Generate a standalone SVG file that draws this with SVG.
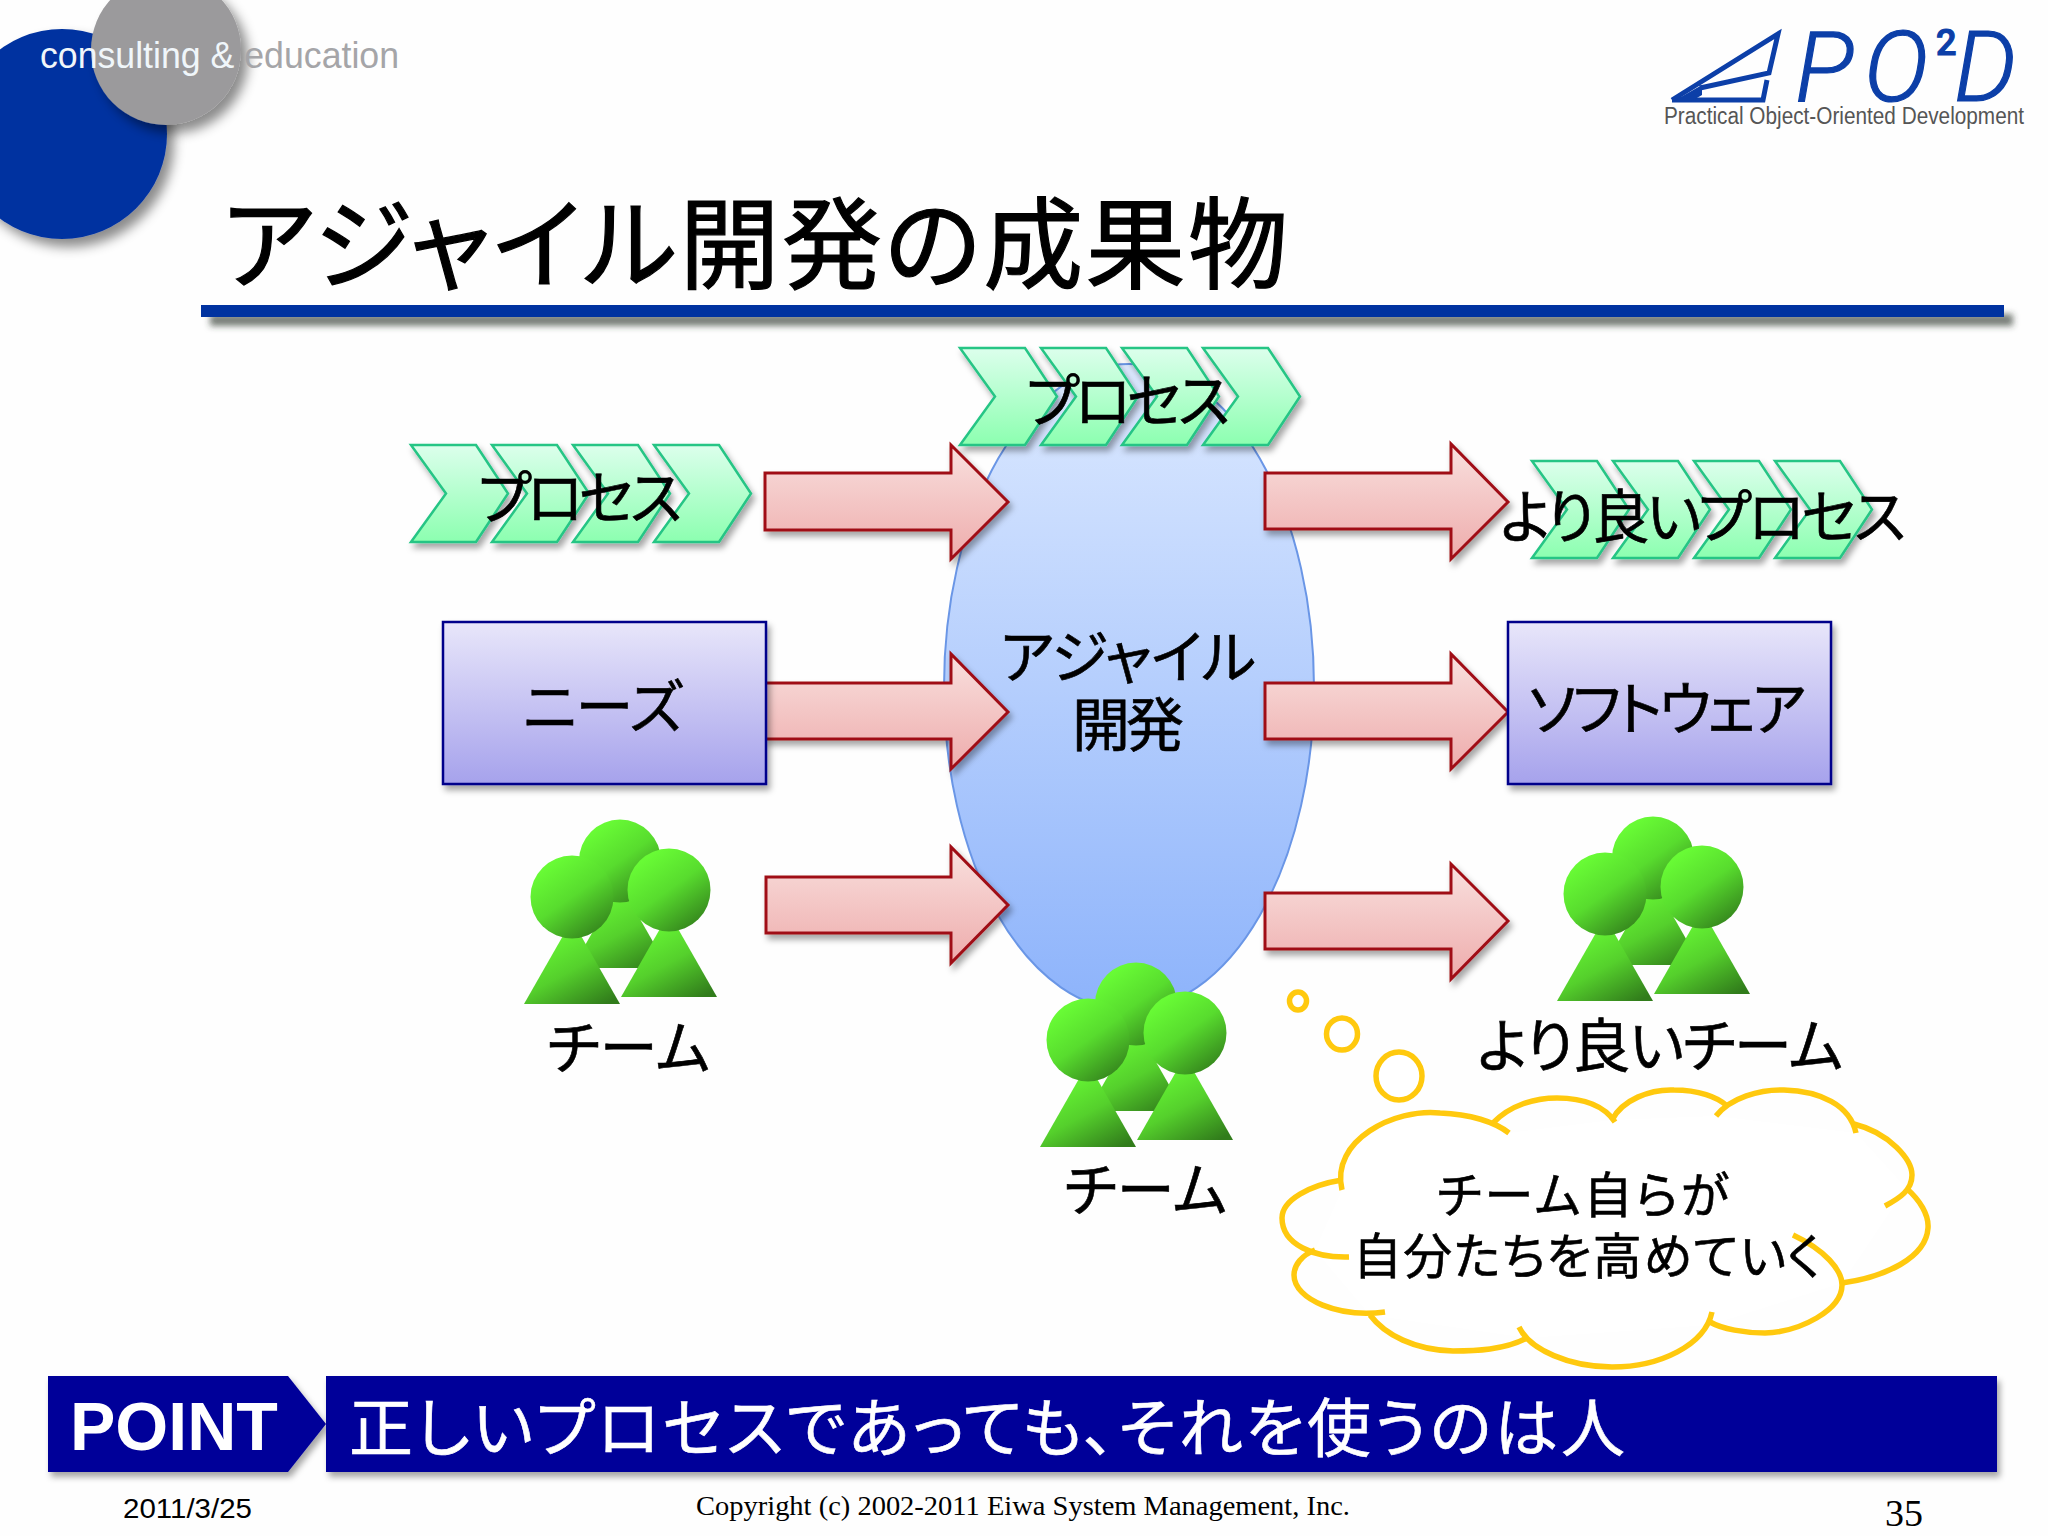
<svg xmlns="http://www.w3.org/2000/svg" xmlns:xlink="http://www.w3.org/1999/xlink" width="2048" height="1536" viewBox="0 0 2048 1536">
<style>
.jp{font-family:"Noto Sans CJK JP","Liberation Sans",sans-serif;fill:#000;stroke:#000;stroke-width:.6;font-feature-settings:"palt"}
.l{font-size:58px}
.arrow{fill:url(#gArrow);stroke:#a01018;stroke-width:3;stroke-linejoin:miter;filter:url(#sh)}
.chev{fill:url(#gChev);stroke:#25c585;stroke-width:2.5;filter:url(#sh)}
.box{fill:url(#gBox);stroke:#00008b;stroke-width:2.5;filter:url(#sh)}
.head{fill:url(#gHead)}
.body{fill:url(#gBody)}
.ring{fill:#fff;stroke:#ffc90e;stroke-width:5.5}
.lobe{fill:none;stroke:#ffc90e;stroke-width:5.5;stroke-linecap:butt}
.serif{font-family:"Liberation Serif",serif;fill:#000}
.logo{font-family:"Roboto","Liberation Sans",sans-serif;font-style:italic;font-weight:300;fill:#0c3fa8;stroke:#0c3fa8;stroke-width:1.2}
</style>
<defs>
<linearGradient id="gArrow" x1="0" y1="0" x2="0" y2="1"><stop offset="0" stop-color="#f9e0de"/><stop offset="1" stop-color="#eeacac"/></linearGradient>
<linearGradient id="gChev" x1="0" y1="0" x2="0" y2="1"><stop offset="0" stop-color="#dcffec"/><stop offset="1" stop-color="#8cffb0"/></linearGradient>
<linearGradient id="gBox" x1="0" y1="0" x2="0" y2="1"><stop offset="0" stop-color="#e8e6fa"/><stop offset="1" stop-color="#a6a2ec"/></linearGradient>
<linearGradient id="gEll" x1="0" y1="0" x2="0" y2="1"><stop offset="0" stop-color="#dce9ff"/><stop offset="1" stop-color="#8db3fb"/></linearGradient>
<linearGradient id="gHead" x1="0.25" y1="0.1" x2="0.85" y2="0.95"><stop offset="0" stop-color="#68fb35"/><stop offset="0.45" stop-color="#58dc2e"/><stop offset="1" stop-color="#33811c"/></linearGradient>
<linearGradient id="gBody" x1="0.3" y1="0.1" x2="0.85" y2="1"><stop offset="0" stop-color="#68fb35"/><stop offset="0.5" stop-color="#55d02c"/><stop offset="1" stop-color="#317c1b"/></linearGradient>
<filter id="sh" x="-10%" y="-10%" width="125%" height="130%"><feDropShadow dx="3" dy="5" stdDeviation="3" flood-color="#000" flood-opacity="0.35"/></filter>
<filter id="sh2" x="-15%" y="-15%" width="140%" height="140%"><feDropShadow dx="7" dy="8" stdDeviation="6" flood-color="#000" flood-opacity="0.45"/></filter>
<filter id="shBar" x="-2%" y="-30%" width="104%" height="280%"><feDropShadow dx="9" dy="9" stdDeviation="3" flood-color="#303830" flood-opacity="0.65"/></filter>
<g id="chevrons">
<polygon class="chev" points="0,0 65,0 97,48.500 65,97 0,97 35,48.500"/>
<polygon class="chev" points="81,0 146,0 178,48.500 146,97 81,97 116,48.500"/>
<polygon class="chev" points="162,0 227,0 259,48.500 227,97 162,97 197,48.500"/>
<polygon class="chev" points="243,0 308,0 340,48.500 308,97 243,97 278,48.500"/>
</g>
<g id="team">
<polygon class="body" points="96,-120 144,-36 48,-36"/>
<ellipse class="head" cx="96" cy="-143" rx="41" ry="41.500"/>
<polygon class="body" points="48,-84 96,0 0,0"/>
<ellipse class="head" cx="48" cy="-107" rx="41.500" ry="41.500"/>
<polygon class="body" points="145,-91 193,-7 97,-7"/>
<ellipse class="head" cx="145" cy="-114" rx="41.500" ry="41.500"/>
</g>
</defs>
<rect id="background" x="0" y="0" width="2048" height="1536" fill="#fefefe"/>

<g id="header">
<circle cx="62" cy="134" r="105" fill="#0033a0" filter="url(#sh2)"/>
<ellipse cx="166" cy="50" rx="75" ry="75" fill="#9b9a9c" filter="url(#sh2)"/>
<text x="40" y="68" font-family="Liberation Sans,sans-serif" font-size="36" textLength="359" lengthAdjust="spacingAndGlyphs" fill="#f0f6fa">consulting &amp; <tspan fill="#a5a5a8">education</tspan></text>
</g>

<g id="logo">
<path d="M1672 100 L1778 34 L1769 73 L1700 88 M1672 100 L1763 100 L1767 80" fill="none" stroke="#0c3fa8" stroke-width="5"/>
<polygon points="1672,102 1702,85 1702,95 1690,102" fill="#0c3fa8"/>
<text class="logo" y="101" font-size="98"><tspan x="1795">P</tspan><tspan x="1864">O</tspan><tspan x="1936" y="55" font-size="36" style="font-style:normal;font-weight:500">2</tspan><tspan x="1954" y="101">D</tspan></text>
<text x="1664" y="124" font-family="Liberation Sans,sans-serif" font-size="23" textLength="360" lengthAdjust="spacingAndGlyphs" fill="#555">Practical Object-Oriented Development</text>
</g>

<g id="title">
<text class="jp" x="222" y="281" font-size="100" textLength="1066" style="stroke-width:1.2">アジャイル開発の成果物</text>
<rect x="201" y="305" width="1803" height="12" fill="#0033a0" filter="url(#shBar)"/>
</g>

<g id="agile">
<ellipse cx="1129" cy="687" rx="185" ry="323" fill="url(#gEll)" stroke="#6a96e6" stroke-width="2"/>
<text class="jp l" x="1000" y="678" textLength="256">アジャイル</text>
<text class="jp l" x="1072" y="746" textLength="112">開発</text>
</g>

<g id="connectors">
<polygon class="arrow" points="765,473 951,473 951,445 1008,502 951,559 951,530 765,530"/>
<polygon class="arrow" points="765,683 951,683 951,654 1008,712 951,769 951,739 765,739"/>
<polygon class="arrow" points="766,877 951,877 951,847 1008,905 951,963 951,933 766,933"/>
<polygon class="arrow" points="1265,473 1451,473 1451,444 1508,502 1451,559 1451,529 1265,529"/>
<polygon class="arrow" points="1265,683 1451,683 1451,654 1508,712 1451,769 1451,739 1265,739"/>
<polygon class="arrow" points="1265,893 1451,893 1451,864 1508,921 1451,979 1451,949 1265,949"/>
</g>

<g id="process-in">
<use href="#chevrons" x="411" y="445"/>
<text class="jp l" x="478" y="519" textLength="204">プロセス</text>
</g>
<g id="process-agile">
<use href="#chevrons" x="960" y="348"/>
<text class="jp l" x="1026" y="422" textLength="204">プロセス</text>
</g>
<g id="process-better">
<use href="#chevrons" x="1532" y="461"/>
<text class="jp l" x="1500" y="538" textLength="406">より良いプロセス</text>
</g>
<g id="needs">
<rect class="box" x="443" y="622" width="323" height="162"/>
<text class="jp l" x="523" y="728" textLength="160">ニーズ</text>
</g>
<g id="software">
<rect class="box" x="1508" y="622" width="323" height="162"/>
<text class="jp l" x="1528" y="730" textLength="278">ソフトウェア</text>
</g>

<g id="team-in">
<use href="#team" x="524" y="1004"/>
<text class="jp l" x="547" y="1069" textLength="163">チーム</text>
</g>
<g id="team-agile">
<use href="#team" x="1040" y="1147"/>
<text class="jp l" x="1064" y="1211" textLength="163">チーム</text>
</g>
<g id="team-better">
<use href="#team" x="1557" y="1001"/>
<text class="jp l" x="1477" y="1067" textLength="366">より良いチーム</text>
</g>

<g id="thought">
<ellipse class="ring" cx="1298" cy="1001" rx="8.500" ry="9"/>
<ellipse class="ring" cx="1342" cy="1034" rx="15.500" ry="16"/>
<ellipse class="ring" cx="1399" cy="1076" rx="23" ry="24"/>
<path d="M1342 1190 C1330 1140 1395 1108 1440 1113 C1470 1114 1495 1122 1509 1133 L1612 1120 L1716 1116 L1856 1133 L1906 1188 L1842 1283 L1710 1325 L1527 1338 L1370 1315 L1315 1250 Z" fill="#fff"/>
<path class="lobe" d="M1342 1190 C1330 1140 1395 1108 1440 1113 C1470 1114 1495 1122 1509 1133"/>
<path class="lobe" d="M1493 1123 C1510 1105 1535 1098 1557 1098 C1585 1098 1605 1107 1615 1122"/>
<path class="lobe" d="M1612 1120 C1622 1100 1650 1089 1674 1090 C1698 1090 1718 1097 1727 1106"/>
<path class="lobe" d="M1716 1116 C1730 1098 1760 1089 1784 1090 C1820 1091 1850 1105 1856 1133"/>
<path class="lobe" d="M1854 1124 C1890 1133 1912 1160 1912 1175 C1912 1190 1900 1198 1885 1206"/>
<path class="lobe" d="M1906 1188 C1920 1200 1929 1215 1928 1228 C1926 1258 1885 1277 1842 1283"/>
<path class="lobe" d="M1793 1235 C1825 1250 1842 1270 1842 1285 C1842 1310 1800 1332 1765 1333 C1745 1333 1722 1329 1710 1322"/>
<path class="lobe" d="M1712 1312 C1705 1345 1660 1367 1612 1367 C1570 1367 1530 1350 1519 1327"/>
<path class="lobe" d="M1527 1338 C1505 1350 1475 1351 1453 1351 C1415 1350 1385 1335 1370 1315"/>
<path class="lobe" d="M1385 1312 C1340 1318 1294 1300 1294 1275 C1294 1265 1302 1255 1315 1250"/>
<path class="lobe" d="M1349 1257 C1315 1258 1282 1245 1282 1218 C1282 1200 1310 1185 1342 1180"/>
<text class="jp" x="1437" y="1213" font-size="49" textLength="292">チーム自らが</text>
<text class="jp" x="1353" y="1274" font-size="49" textLength="468">自分たちを高めていく</text>
</g>

<g id="point">
<polygon points="48,1376 288,1376 326,1424 288,1472 48,1472" fill="#000099" filter="url(#sh)"/>
<text x="70" y="1450" font-family="Liberation Sans,sans-serif" font-weight="bold" font-size="68" fill="#fff">POINT</text>
<rect x="326" y="1376" width="1671" height="96" fill="#000099" filter="url(#sh)"/>
<text class="jp" x="349" y="1451" font-size="64" textLength="1276" style="fill:#fff;stroke:#fff">正しいプロセスであっても、それを使うのは人</text>
</g>

<g id="footer">
<text x="123" y="1518" font-family="Liberation Sans,sans-serif" font-size="28" textLength="129" lengthAdjust="spacingAndGlyphs" fill="#000">2011/3/25</text>
<text class="serif" x="696" y="1515" font-size="28" textLength="654" lengthAdjust="spacingAndGlyphs">Copyright (c) 2002-2011 Eiwa System Management, Inc.</text>
<text class="serif" x="1885" y="1526" font-size="38">35</text>
</g>
</svg>
